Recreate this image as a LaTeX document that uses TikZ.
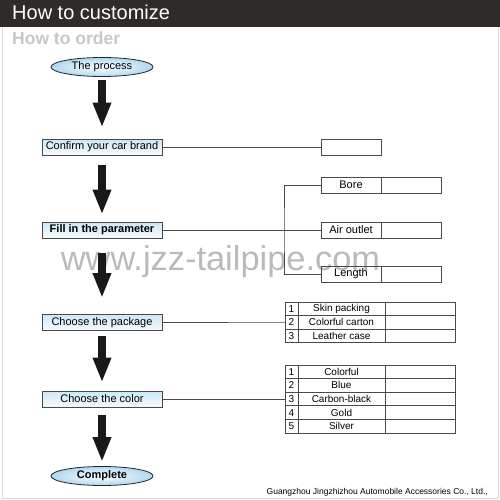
\documentclass[tikz,border=0pt]{standalone}
\usepackage{fontspec}
\setmainfont{Liberation Sans}
\usetikzlibrary{shapes.geometric,arrows.meta}

\definecolor{headbg}{HTML}{2F2B28}
\definecolor{boxblue}{HTML}{CDE7F8}
\definecolor{endblue}{HTML}{AFD8F2}
\definecolor{linegray}{HTML}{4A4A4A}

\tikzset{
  procbox/.style={draw=linegray, line width=0.8pt, top color=boxblue, bottom color=white!80!boxblue,
    minimum width=120pt, minimum height=16pt, inner sep=0pt, font=\fontsize{11}{12}\selectfont},
  procend/.style={ellipse, draw=black!85, line width=0.8pt, inner color=white, outer color=endblue,
    minimum width=102pt, minimum height=19pt, inner sep=0pt, font=\fontsize{11}{12}\selectfont},
  flowarrow/.style={line width=8pt, black!90, -{Triangle[width=17pt,length=25pt]}},
  link/.style={draw=linegray, line width=0.6pt},
  cell/.style={draw=linegray, line width=0.7pt, minimum height=16pt, minimum width=60pt,
    inner sep=0pt, outer sep=0pt, font=\fontsize{11}{12}\selectfont},
  tcell/.style={draw=linegray, line width=0.7pt, minimum height=13.6pt,
    inner sep=0pt, outer sep=0pt, font=\fontsize{10}{11}\selectfont},
}

\begin{document}
\begin{tikzpicture}[x=1pt,y=-1pt]
\useasboundingbox (0,0) rectangle (500,500);

% Header
\fill[headbg] (0,0) rectangle (500,27);
\draw[black!15, line width=0.6pt] (2,27) -- (2,498) -- (498,498) -- (498,27);
\node[anchor=base west, text=white, inner sep=0pt, font=\fontsize{20}{22}\selectfont]
    (title) at (12,20) {How to customize};
\node[anchor=base west, text=black!22, inner sep=0pt, font=\bfseries\fontsize{17.5}{19}\selectfont]
    (subtitle) at (12,45) {How to order};

% Watermark
\node[text=black!27, inner sep=0pt, font=\fontsize{34.4}{36}\selectfont]
    (watermark) at (220.5,262) {www.jzz-tailpipe.com};

% Steps
\node[procend] (process) at (102,67) {The process};
\node[procbox] (brand)   at (102,147) {Confirm your car brand};
\node[procbox] (param)   at (102,230) {\bfseries Fill in the parameter};
\node[procbox] (package) at (102,322.5) {Choose the package};
\node[procbox] (color)   at (102,399) {Choose the color};
\node[procend] (done)    at (102,476) {\bfseries Complete};

% Draw arrows
\draw[flowarrow, shorten <=3pt,  shorten >=11pt] (process.south) -- (brand.north);
\draw[flowarrow, shorten <=10pt, shorten >=7pt]  (brand.south)   -- (param.north);
\draw[flowarrow, shorten <=15pt, shorten >=16pt] (param.south)   -- (package.north);
\draw[flowarrow, shorten <=5pt,  shorten >=8pt]  (package.south) -- (color.north);
\draw[flowarrow, shorten <=8pt,  shorten >=4pt]  (color.south)   -- (done.north);

% Car brand
\node[cell, anchor=west] (brandval) at (321,147) {};
\draw[link] (brand.east) -- (brandval.west);

% Parameters
\node[cell, anchor=west] (bore)   at (321,185) {Bore};
\node[cell, anchor=west] (air)    at (321,230) {Air outlet};
\node[cell, anchor=west] (length) at (321,274) {Length};
\node[cell, anchor=west] (boreval)   at (bore.east)   {};
\node[cell, anchor=west] (airval)    at (air.east)    {};
\node[cell, anchor=west] (lengthval) at (length.east) {};
\coordinate (split) at (284,230);
\draw[link] (param.east) -- (air.west);
\draw[link] (bore.west) -| (split) |- (length.west);

% Package table
\foreach \txt [count=\i] in {Skin packing, Colorful carton, Leather case} {
  \node[tcell, minimum width=13pt] (pkn\i) at (291.5,{302+13.6*(\i-0.5)}) {\i};
  \node[tcell, minimum width=87pt, anchor=west] (pkl\i) at (pkn\i.east) {\txt};
  \node[tcell, minimum width=70pt, anchor=west] (pkv\i) at (pkl\i.east) {};
}
\draw[link] (package.east) -- (pkn2.west);

% Colour table
\foreach \txt [count=\i] in {Colorful, Blue, Carbon-black, Gold, Silver} {
  \node[tcell, minimum width=13pt] (cln\i) at (291.5,{365+13.6*(\i-0.5)}) {\i};
  \node[tcell, minimum width=87pt, anchor=west] (cll\i) at (cln\i.east) {\txt};
  \node[tcell, minimum width=70pt, anchor=west] (clv\i) at (cll\i.east) {};
}
\draw[link] (color.east) -- (cln3.west);

% Footer
\node[anchor=base east, inner sep=0pt, font=\fontsize{8.5}{10}\selectfont]
    (footer) at (488,494) {Guangzhou Jingzhizhou Automobile Accessories Co., Ltd.,};
\end{tikzpicture}
\end{document}
